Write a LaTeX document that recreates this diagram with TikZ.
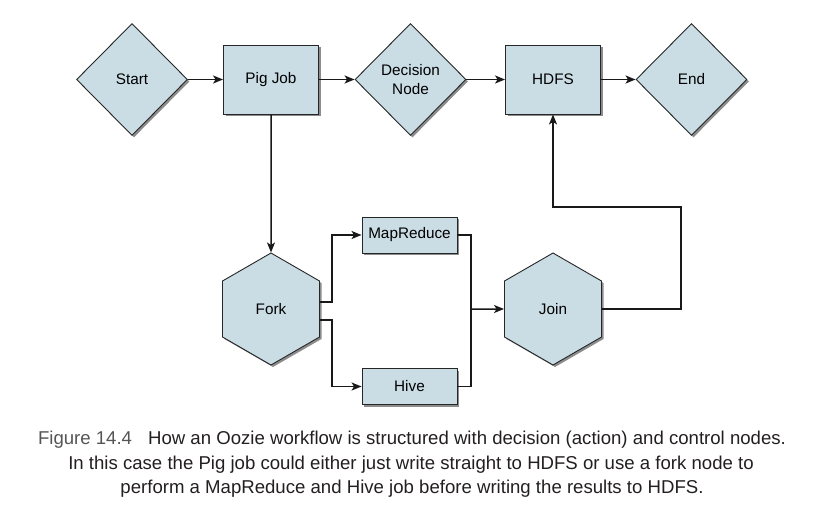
\documentclass[tikz,border=0pt]{standalone}
\usepackage{fontspec}
\setmainfont{Liberation Sans}
\usetikzlibrary{shapes.geometric,arrows.meta,shadows}
\definecolor{boxfill}{HTML}{CADDE5}
\definecolor{figgray}{HTML}{555555}
\definecolor{captext}{HTML}{231F20}
\begin{document}
\begin{tikzpicture}[x=1pt,y=-1pt,
  shade/.style={drop shadow={shadow xshift=2pt,shadow yshift=-2pt,fill=black,opacity=0.45}},
  base/.style={draw=black!85,line width=0.9pt,fill=boxfill,shade,font=\fontsize{15.3}{18.5}\selectfont,align=center,inner sep=0pt},
  dia/.style={base,diamond,minimum width=111pt,minimum height=112pt},
  rbox/.style={base,rectangle,minimum width=95pt,minimum height=69pt},
  sbox/.style={base,rectangle,minimum width=95pt,minimum height=36pt},
  hexa/.style={base,regular polygon,regular polygon sides=6,shape border rotate=30,minimum size=112pt},
  conn/.style={line width=1.5pt,black!90},
  arr/.style={conn,-{Stealth[length=10pt,width=8pt,inset=2.5pt]}},
  capfont/.style={font=\fontsize{18.6}{22}\selectfont,text=captext,inner sep=0pt}
]
\useasboundingbox (0,0) rectangle (838,530);

\node[dia]  (start) at (132,79.5)   {Start};
\node[rbox] (pig)   at (271,79.5)   {Pig Job};
\node[dia]  (dec)   at (410.5,79.5) {Decision\\Node};
\node[rbox] (hdfs)  at (553,79.5)   {HDFS};
\node[dia]  (end)   at (691.5,79.5) {End};

\node[hexa] (fork)  at (271,309)    {Fork};
\node[hexa] (join)  at (553,309)    {Join};
\node[sbox] (mr)    at (409.5,235)  {MapReduce};
\node[sbox] (hive)  at (409.5,386.5){Hive};

\coordinate (m) at (471,309);
\coordinate (r) at (681,207);

\draw[arr] (start.east) -- (pig.west);
\draw[arr] (pig.east) -- (dec.west);
\draw[arr] (dec.east) -- (hdfs.west);
\draw[arr] (hdfs.east) -- (end.west);
\draw[arr] (pig.south) -- (fork.north);

\draw[arr] ([yshift=7pt]fork.east) -- ++(12,0) |- (mr.west);
\draw[arr] ([yshift=-11pt]fork.east) -- ++(12,0) |- (hive.west);
\draw[conn] (mr.east) -| (m);
\draw[conn] (hive.east) -| (m);
\draw[arr] (m) -- (join.west);
\draw[arr] (join.east) -| (r) -| (hdfs.south);

\node[capfont] (cap1) at (412,440) {\textcolor{figgray}{Figure 14.4}\hspace{16pt}How an Oozie workflow is structured with decision (action) and control nodes.};
\node[capfont] (cap2) at (411,465) {In this case the Pig job could either just write straight to HDFS or use a fork node to};
\node[capfont] (cap3) at (412,489) {perform a MapReduce and Hive job before writing the results to HDFS.};
\end{tikzpicture}
\end{document}
